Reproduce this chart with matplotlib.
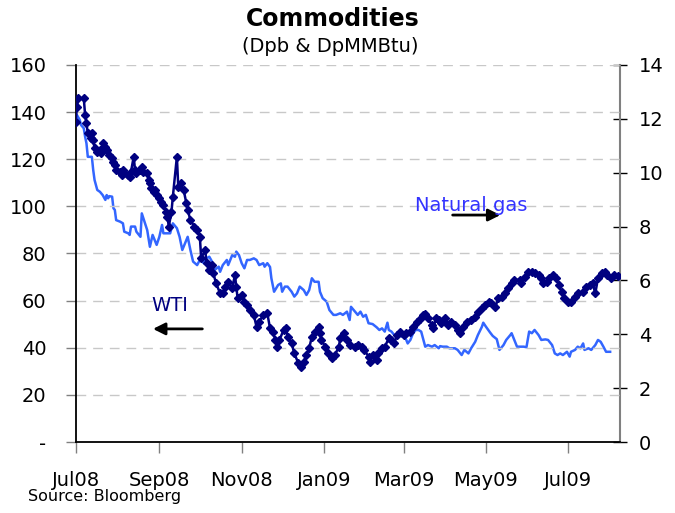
import datetime as dt
import matplotlib
matplotlib.use("Agg")
import matplotlib.pyplot as plt
import matplotlib.dates as mdates
from matplotlib.ticker import FixedLocator, FuncFormatter

START = dt.date(2008, 7, 1)
END = dt.date(2009, 8, 8)

# WTI, USD per barrel (left axis); days counted from 1 Jul 2008
wti_day = [0, 1, 2, 6, 7, 8, 9, 11, 12, 13, 14, 16, 18, 19, 20, 22, 23, 25, 27, 28,
           29, 30, 33, 34, 35, 36, 39, 40, 41, 43, 44, 45, 48, 49, 50, 53, 54, 55, 56, 58,
           59, 60, 62, 63, 65, 67, 68, 69, 71, 72, 75, 76, 78, 80, 82, 83, 85, 88, 90, 92,
           93, 96, 97, 99, 101, 102, 104, 107, 109, 111, 113, 116, 118, 119, 120, 123, 125, 127, 129, 132,
           134, 136, 139, 142, 144, 146, 148, 149, 151, 154, 156, 157, 160, 162, 165, 167, 169, 171, 173, 175,
           177, 180, 181, 182, 185, 187, 190, 192, 195, 196, 199, 201, 203, 207, 209, 212, 214, 217, 218, 220,
           223, 224, 227, 229, 232, 234, 236, 238, 240, 243, 245, 248, 250, 253, 255, 257, 259, 261, 264, 265,
           267, 269, 271, 274, 276, 278, 281, 283, 285, 287, 290, 293, 296, 298, 301, 303, 306, 308, 311, 313,
           316, 318, 320, 323, 325, 329, 330, 333, 335, 338, 340, 343, 345, 346, 349, 351, 354, 356, 358, 360,
           362, 365, 367, 370, 372, 376, 378, 381, 383, 385, 387, 390, 392, 394, 397, 399, 402]
wti = [136.0, 142.3, 145.9, 145.9, 138.8, 135.3, 131.0, 128.9, 131.0, 128.2, 124.7, 123.2, 123.9, 122.5, 126.8, 125.3, 123.9, 121.8, 120.4, 119.0,
       117.6, 115.4, 114.7, 113.3, 115.4, 114.0, 113.3, 112.6, 114.7, 121.1, 115.4, 114.0, 115.4, 116.9, 114.7, 114.0, 111.2, 109.8, 107.7, 106.2,
       107.0, 104.8, 103.4, 102.0, 100.6, 97.8, 95.6, 91.4, 97.8, 104.1, 121.1, 108.4, 109.8, 107.0, 101.3, 98.5, 94.2, 91.4, 90.0, 87.1,
       78.0, 81.5, 75.8, 73.0, 75.1, 71.6, 67.4, 63.1, 63.1, 65.9, 68.0, 65.2, 70.9, 65.9, 61.0, 62.4, 59.5, 58.1, 56.0, 53.9,
       48.9, 51.1, 53.9, 54.6, 48.3, 46.8, 43.3, 40.4, 43.3, 47.5, 48.3, 44.7, 41.9, 37.6, 33.4, 32.0, 34.1, 36.9, 39.8, 44.7,
       46.8, 48.7, 46.1, 43.3, 40.4, 37.6, 35.5, 36.9, 40.4, 44.0, 46.1, 43.3, 41.2, 40.4, 41.2, 40.4, 39.0, 36.2, 34.1, 36.9,
       34.8, 37.6, 39.8, 40.4, 44.0, 43.3, 41.9, 45.4, 46.8, 45.4, 46.1, 46.8, 48.9, 51.1, 52.1, 53.9, 54.3, 52.5, 49.7, 48.3,
       52.5, 51.8, 50.4, 52.5, 49.7, 51.1, 49.7, 47.5, 46.1, 48.9, 51.1, 51.8, 53.2, 55.3, 56.7, 58.1, 59.5, 58.9, 57.3, 61.0,
       61.7, 63.1, 65.2, 67.4, 68.8, 68.8, 67.4, 70.2, 72.3, 72.3, 71.6, 70.9, 69.5, 67.4, 68.0, 69.5, 70.9, 69.5, 66.6, 63.8,
       61.0, 59.5, 59.5, 61.7, 63.1, 63.8, 65.9, 66.6, 67.4, 63.1, 69.5, 71.6, 72.3, 70.9, 69.5, 70.9, 70.5]

# Natural gas, USD per MMBtu (right axis)
gas_day = [0, 1, 3, 4, 6, 7, 8, 9, 12, 13, 14, 16, 18, 20, 22, 23, 24, 25, 27, 28,
           29, 30, 33, 35, 36, 39, 40, 41, 44, 45, 48, 49, 51, 53, 55, 57, 60, 62, 64, 65,
           67, 70, 72, 75, 77, 79, 81, 83, 85, 87, 90, 92, 95, 97, 99, 101, 103, 106, 107, 109,
           112, 113, 116, 118, 119, 121, 123, 125, 127, 129, 132, 134, 136, 139, 140, 142, 144, 145, 147, 150,
           152, 153, 155, 157, 160, 162, 164, 166, 169, 171, 173, 175, 177, 180, 181, 183, 186, 188, 191, 193,
           196, 198, 201, 203, 204, 206, 209, 211, 213, 215, 217, 220, 223, 225, 227, 229, 231, 232, 234, 237,
           239, 242, 244, 246, 248, 250, 252, 254, 256, 259, 261, 264, 266, 269, 270, 272, 275, 277, 281, 283,
           286, 288, 291, 293, 296, 298, 301, 302, 304, 307, 309, 312, 314, 317, 319, 322, 323, 325, 327, 329,
           332, 334, 336, 338, 340, 343, 345, 348, 350, 353, 355, 357, 359, 361, 364, 366, 367, 370, 372, 374,
           376, 377, 380, 382, 385, 387, 389, 391, 393, 396]
gas = [12.00, 12.14, 11.96, 11.77, 11.65, 11.34, 11.09, 10.59, 10.59, 10.10, 9.73, 9.36, 9.29, 9.17, 8.99, 9.17, 9.05, 9.13, 9.11, 8.68,
       8.62, 8.24, 8.18, 8.12, 7.81, 7.75, 7.69, 8.00, 8.00, 7.81, 7.62, 8.49, 8.18, 7.87, 7.25, 7.69, 7.32, 7.62, 8.06, 7.75,
       7.75, 7.75, 8.12, 7.94, 7.62, 7.13, 7.38, 7.62, 7.13, 6.70, 6.57, 6.76, 6.64, 6.82, 6.88, 6.70, 6.39, 6.51, 6.32, 6.57,
       6.76, 6.57, 6.94, 6.88, 7.07, 6.94, 6.64, 6.45, 6.76, 6.76, 6.82, 6.76, 6.57, 6.64, 6.51, 6.64, 6.50, 6.08, 5.58, 5.83,
       5.89, 5.58, 5.77, 5.77, 5.58, 5.40, 5.52, 5.77, 5.64, 5.46, 5.64, 6.08, 5.95, 5.95, 5.58, 5.34, 5.21, 4.90, 4.72, 4.72,
       4.78, 4.72, 4.84, 4.53, 5.02, 4.90, 4.72, 4.84, 4.65, 4.72, 4.41, 4.38, 4.26, 4.16, 4.22, 4.10, 4.43, 4.16, 4.10, 3.91,
       3.97, 3.91, 3.91, 3.66, 3.79, 4.04, 4.16, 4.16, 4.10, 3.54, 3.60, 3.54, 3.60, 3.48, 3.56, 3.54, 3.54, 3.48, 3.48, 3.42,
       3.23, 3.42, 3.29, 3.48, 3.72, 3.97, 4.28, 4.43, 4.28, 4.07, 3.94, 3.82, 3.42, 3.60, 3.79, 3.97, 4.04, 3.79, 3.54, 3.54,
       3.54, 3.52, 4.10, 4.04, 4.16, 3.97, 3.79, 3.81, 3.79, 3.60, 3.29, 3.23, 3.29, 3.23, 3.35, 3.17, 3.35, 3.42, 3.54, 3.48,
       3.66, 3.42, 3.48, 3.42, 3.60, 3.79, 3.72, 3.54, 3.35, 3.35]

month_ticks = [dt.date(2008, 7, 1), dt.date(2008, 9, 1), dt.date(2008, 11, 1), dt.date(2009, 1, 1),
               dt.date(2009, 3, 1), dt.date(2009, 5, 1), dt.date(2009, 7, 1)]
left_ticks = [0, 20, 40, 60, 80, 100, 120, 140, 160]
right_ticks = [0, 2, 4, 6, 8, 10, 12, 14]

NAVY = '#000080'
GAS_BLUE = '#3366FF'

wti_dates = [START + dt.timedelta(days=d) for d in wti_day]
gas_dates = [START + dt.timedelta(days=d) for d in gas_day]

plt.rcParams['font.family'] = ['DejaVu Sans']

fig = plt.figure(figsize=(6.75, 5.13), dpi=100)
ax = fig.add_axes([0.1121, 0.1384, 0.8058, 0.7349])
ax2 = ax.twinx()
ax.set_zorder(ax2.get_zorder() + 1)
ax.patch.set_visible(False)

# dashed grid on the left scale
for v in left_ticks[1:]:
    ax.axhline(v, color='#C8C8C8', lw=1, ls=(0, (7, 5)), zorder=0)

ax2.plot(gas_dates, gas, color=GAS_BLUE, lw=1.8)
ax.plot(wti_dates, wti, color=NAVY, lw=1.8, marker='D', ms=3.6, mec=NAVY, mfc=NAVY, zorder=3)

ax.set_xlim(START, END)
ax.set_ylim(0, 160)
ax2.set_ylim(0, 14)

ax.xaxis.set_major_locator(FixedLocator(mdates.date2num(month_ticks)))
ax.xaxis.set_major_formatter(mdates.DateFormatter('%b%y'))
ax.yaxis.set_major_locator(FixedLocator(left_ticks))
ax.yaxis.set_major_formatter(FuncFormatter(lambda v, p: '-' if v == 0 else '%d' % v))
ax2.yaxis.set_major_locator(FixedLocator(right_ticks))

for s in ['top', 'right']:
    ax.spines[s].set_visible(False)
ax.spines['left'].set_linewidth(1.3)
ax.spines['bottom'].set_linewidth(1.3)
for s in ['top', 'left', 'bottom']:
    ax2.spines[s].set_visible(False)
ax2.spines['right'].set_color('#808080')
ax2.spines['right'].set_linewidth(1.5)

ax.tick_params(axis='x', direction='out', length=8, width=1, color='#808080', pad=13, labelsize=14)
ax.tick_params(axis='y', direction='out', length=7, width=1, color='#808080', pad=14, labelsize=14)
ax2.tick_params(axis='y', direction='inout', length=10, width=1, color='black', pad=9, labelsize=14)

# labels with arrows
ax.text(0.728, 0.613, 'Natural gas', transform=ax.transAxes, color='#3333FF',
        fontsize=14, ha='center', va='baseline', zorder=5)
ax.annotate('', xy=(0.786, 0.602), xytext=(0.688, 0.602), xycoords='axes fraction',
            arrowprops=dict(arrowstyle='-|>', color='black', lw=2, mutation_scale=18))
ax.text(0.173, 0.347, 'WTI', transform=ax.transAxes, color=NAVY,
        fontsize=14, ha='center', va='baseline', zorder=5)
ax.annotate('', xy=(0.137, 0.30), xytext=(0.238, 0.30), xycoords='axes fraction',
            arrowprops=dict(arrowstyle='-|>', color='black', lw=2, mutation_scale=18))

fig.text(333 / 675, 1 - 19 / 513, 'Commodities', fontsize=17, fontweight='bold',
         ha='center', va='center')
fig.text(330 / 675, 1 - 47 / 513, '(Dpb & DpMMBtu)', fontsize=14, ha='center', va='center')
fig.text(28 / 675, 1 - 497 / 513, 'Source: Bloomberg', fontsize=11.5, ha='left', va='center')

fig.savefig('out.png', dpi=100)
